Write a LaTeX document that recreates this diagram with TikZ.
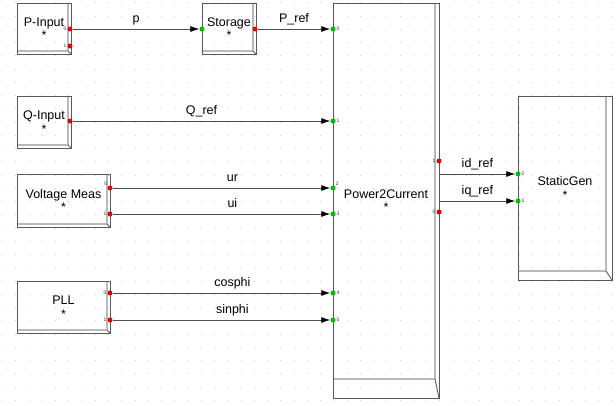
\documentclass[tikz,border=0pt]{standalone}
\usepackage{fontspec}
\setmainfont{Liberation Sans}
\usetikzlibrary{arrows.meta, positioning}

\begin{document}
\begin{tikzpicture}[x=1pt, y=-1pt, font=\fontsize{12.5}{13.5}\selectfont,
    block/.style 2 args={draw=gray!70!black, line width=0.9pt, align=center, inner sep=0pt,
        path picture={
            \draw[gray!55, line width=1.2pt] ([xshift=-#1]path picture bounding box.north east)
                -- ([xshift=-#1, yshift=#2]path picture bounding box.south east)
                -- ([yshift=#2]path picture bounding box.south west);
            \draw[gray!70!black, line width=0.9pt] ([xshift=-#1, yshift=#2]path picture bounding box.south east)
                -- (path picture bounding box.south east);}},
    inport/.style={circle, fill=green!75!black, inner sep=0pt, minimum size=5pt},
    outport/.style={circle, fill=red!90!black, inner sep=0pt, minimum size=5pt},
    num/.style={font=\fontsize{5}{5}\selectfont, text=gray!40!black, inner sep=0.8pt},
    sig/.style={-{Latex[length=9pt, width=6pt, color=black]},
        every edge/.style={draw=gray!60!black, line width=0.8pt}},
    lbl/.style={above, inner sep=3.5pt, text depth=3pt}]

    \useasboundingbox (0,0) rectangle (616,405);
    \foreach \i in {0,...,46}
        \foreach \j in {0,...,30}
            \fill[gray!40] ({2.2+13.25*\i}, {2.3+13.25*\j}) rectangle +(1,1);

    % blocks
    \node[block={3pt}{3pt}, minimum width=54pt, minimum height=51pt] (pin) at (44,28.5) {P-Input\\*};
    \node[block={3pt}{3pt}, minimum width=54pt, minimum height=51pt] (sto) at (229,28.5) {Storage\\*};
    \node[block={3pt}{3pt}, minimum width=54pt, minimum height=52pt] (qin) at (44,122) {Q-Input\\*};
    \node[block={3pt}{3pt}, minimum width=93pt, minimum height=53pt] (vm) at (63.5,200.5) {Voltage Meas\\*};
    \node[block={3pt}{3pt}, minimum width=93pt, minimum height=52pt] (pll) at (63.5,307) {PLL\\*};
    \node[block={4pt}{19pt}, minimum width=106pt, minimum height=395pt] (p2c) at (386,200.5) {Power2Current\\*};
    \node[block={6pt}{9pt}, minimum width=94pt, minimum height=184pt] (sg) at (565,188) {StaticGen\\*};

    % ports
    \node[outport, label={[num]left:0}] (pin0) at (70,29) {};
    \node[outport, label={[num]left:1}] (pin1) at (70,46) {};
    \node[inport] (sto0) at (202,29) {};
    \node[outport] (sto1) at (255,29) {};
    \node[outport] (qin0) at (70,121) {};
    \node[outport, label={[num]above left:0}] (vm0) at (110,188) {};
    \node[outport, label={[num]left:1}] (vm1) at (110,214) {};
    \node[outport, label={[num]left:0}] (pll0) at (110,293) {};
    \node[outport, label={[num]left:1}] (pll1) at (110,320) {};
    \node[inport, label={[num]right:0}] (p2c0) at (333,29) {};
    \node[inport, label={[num]right:1}] (p2c1) at (333,121) {};
    \node[inport, label={[num]above right:2}] (p2c2) at (333,188) {};
    \node[inport, label={[num]right:3}] (p2c3) at (333,214) {};
    \node[inport, label={[num]right:4}] (p2c4) at (333,293) {};
    \node[inport, label={[num]right:5}] (p2c5) at (333,320) {};
    \node[outport, label={[num]left:1}] (p2co1) at (439,161) {};
    \node[outport, label={[num]left:0}] (p2co0) at (439,212) {};
    \node[inport, label={[num]right:0}] (sg0) at (518,174) {};
    \node[inport, label={[num]right:1}] (sg1) at (518,201) {};
    \coordinate (idsrc) at (p2c.east |- sg0);
    \coordinate (iqsrc) at (p2c.east |- sg1);

    \path[sig]
    (pin0) edge node[lbl] {p} (sto0)
    (sto1) edge node[lbl] {P\_ref} (p2c0)
    (qin0) edge node[lbl] {Q\_ref} (p2c1)
    (vm0) edge node[lbl, pos=0.55] {ur} (p2c2)
    (vm1) edge node[lbl, pos=0.55] {ui} (p2c3)
    (pll0) edge node[lbl, pos=0.55] {cosphi} (p2c4)
    (pll1) edge node[lbl, pos=0.55] {sinphi} (p2c5)
    (idsrc) edge node[lbl] {id\_ref} (sg0)
    (iqsrc) edge node[lbl] {iq\_ref} (sg1);

\end{tikzpicture}
\end{document}
